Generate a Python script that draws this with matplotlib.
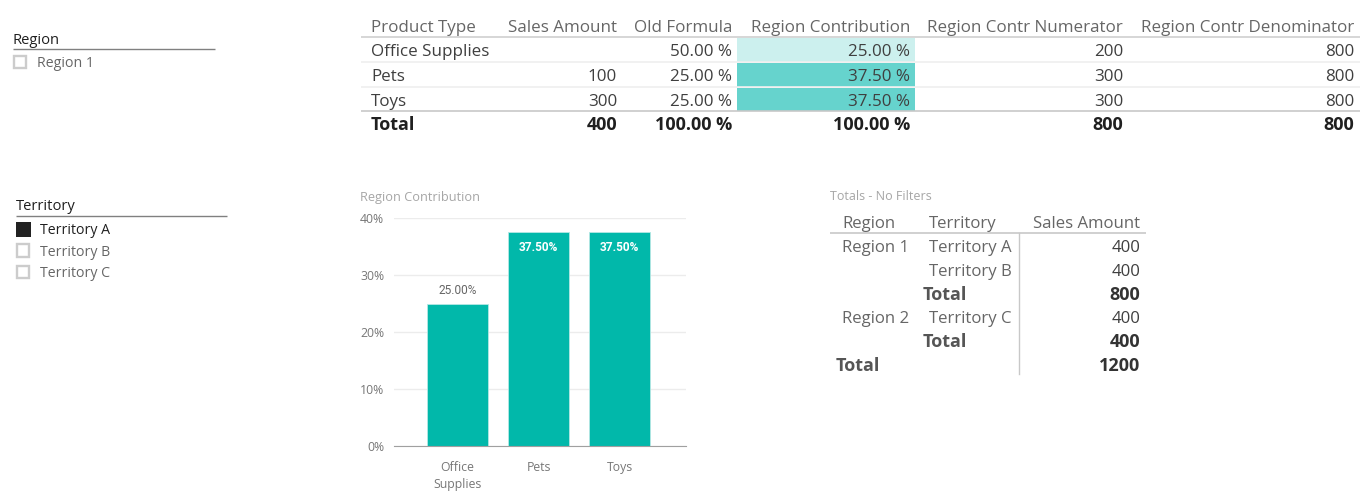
import matplotlib
matplotlib.use("Agg")
import matplotlib.pyplot as plt
from matplotlib.patches import Rectangle

plt.rcParams['font.family'] = ['Open Sans', 'DejaVu Sans']

# ---- data ----
product_header = ["Product Type", "Sales Amount", "Old Formula", "Region Contribution",
                  "Region Contr Numerator", "Region Contr Denominator"]
product_types = ["Office Supplies", "Pets", "Toys"]
sales_amount = ["", "100", "300"]
old_formula = ["50.00 %", "25.00 %", "25.00 %"]
region_contribution_txt = ["25.00 %", "37.50 %", "37.50 %"]
region_numerator = ["200", "300", "300"]
region_denominator = ["800", "800", "800"]
product_total = ["Total", "400", "100.00 %", "100.00 %", "800", "800"]

chart_title = "Region Contribution"
chart_categories = ["Office\nSupplies", "Pets", "Toys"]
chart_values = [25.0, 37.5, 37.5]
chart_labels = ["25.00%", "37.50%", "37.50%"]
chart_ticks = [0, 10, 20, 30, 40]

totals_title = "Totals - No Filters"
totals_header = ["Region", "Territory", "Sales Amount"]
totals_rows = [("Region 1", "Territory A", "400", False),
               ("", "Territory B", "400", False),
               ("", "Total", "800", True),
               ("Region 2", "Territory C", "400", False),
               ("", "Total", "400", True),
               ("Total", "", "1200", True)]

region_slicer_title = "Region"
region_items = ["Region 1"]
territory_slicer_title = "Territory"
territory_items = ["Territory A", "Territory B", "Territory C"]
territory_selected = [True, False, False]

W, H = 1369, 498
fig = plt.figure(figsize=(W / 100, H / 100), dpi=100, facecolor="white")
ov = fig.add_axes([0, 0, 1, 1])
ov.set_xlim(0, W); ov.set_ylim(H, 0); ov.axis("off")

DARK = "#3f3f3f"; MID = "#666666"; BLK = "#1f1f1f"
TF = 12.25
TF2 = 12.05
BF = 13.0

def txt(x, y, s, size=TF, color=DARK, ha="left", weight="normal"):
    ov.text(x, y, s, fontsize=size, color=color, ha=ha, va="center", fontweight=weight)

def hline(x0, x1, y, color, lw=1.0):
    ov.plot([x0, x1], [y, y], color=color, lw=lw, solid_capstyle="butt")

def checkbox(x, y, selected):
    if selected:
        ov.add_patch(Rectangle((x, y), 15, 15, fc="#222222", ec="none"))
    else:
        ov.add_patch(Rectangle((x + 0.8, y + 0.8), 12.5, 12.5, fc="white", ec="#cccccc", lw=1.7))

# ---- slicers ----
txt(13, 40, region_slicer_title, size=10.6, color=BLK)
hline(13, 215, 48.5, "#808080")
for i, it in enumerate(region_items):
    checkbox(13, 55 + i * 21, False)
    txt(37, 63.5 + i * 21, it, size=10.2, color=MID)

txt(16, 206.5, territory_slicer_title, size=10.6, color=BLK)
hline(16, 227, 215.5, "#808080")
for i, (it, sel) in enumerate(zip(territory_items, territory_selected)):
    checkbox(16, 222 + i * 21.5, sel)
    txt(40, 230.5 + i * 21.5, it, size=10.2, color=BLK if sel else MID)

# ---- top table ----
right_edges = [None, 617, 732, 910, 1123, 1354]
row_y = [51.5, 76.5, 101.5]
for y in [62, 87]:
    hline(361, 1360, y, "#efefef", 1.2)
hline(361, 1360, 37, "#d0d0d0", 1.2)
hline(361, 1360, 111, "#c8c8c8", 1.2)
ov.add_patch(Rectangle((737, 38), 178, 23.5, fc="#ccf0ee", ec="none"))
ov.add_patch(Rectangle((737, 63), 178, 23.5, fc="#66d3cd", ec="none"))
ov.add_patch(Rectangle((737, 88), 178, 22.5, fc="#66d3cd", ec="none"))
txt(371, 27.5, product_header[0], color=MID)
for j in range(1, 6):
    txt(right_edges[j], 27.5, product_header[j], color=MID, ha="right")
cols = [sales_amount, old_formula, region_contribution_txt, region_numerator, region_denominator]
for i, y in enumerate(row_y):
    txt(371, y, product_types[i])
    for j, col in enumerate(cols, start=1):
        txt(right_edges[j], y, col[i], ha="right")
txt(371, 124.5, product_total[0], size=BF, color=BLK, weight="bold")
for j in range(1, 6):
    txt(right_edges[j], 124.5, product_total[j], size=BF, color=BLK, ha="right", weight="bold")

# ---- totals table ----
txt(830, 196.5, totals_title, size=9.0, color="#a6a6a6")
txt(842, 223.5, totals_header[0], size=TF2, color=MID)
txt(929, 223.5, totals_header[1], size=TF2, color=MID)
txt(1140, 223.5, totals_header[2], size=TF2, color=MID, ha="right")
hline(830, 1146, 232.5, "#c8c8c8", 1.2)
ov.plot([1018.5, 1018.5], [233, 374], color="#c8c8c8", lw=1.0)
t_y = [247.5, 271.5, 294.5, 318.5, 341.5, 365.5]
for (reg, ter, val, bold), y in zip(totals_rows, t_y):
    w = "bold" if bold else "normal"
    col = "#555555" if bold else MID
    if reg == "Total":
        txt(836, y, reg, size=BF, color=col, weight="bold")
    elif reg:
        txt(842, y, reg, size=TF2, color=MID)
    if ter == "Total":
        txt(923, y, ter, size=BF, color=col, weight="bold")
    elif ter:
        txt(929, y, ter, size=TF2, color=MID)
    txt(1140, y, val, size=BF if bold else TF2, color="#333333" if bold else DARK, ha="right", weight=w)

# ---- bar chart ----
txt(360, 197.5, chart_title, size=9.2, color="#a6a6a6")
ax = fig.add_axes([394 / W, 1 - 446 / H, (686 - 394) / W, (446 - 218) / H])
x = list(range(len(chart_values)))
ax.set_axisbelow(True)
ax.bar(x, chart_values, width=0.753, color="#01b8aa", edgecolor="#b5e8e4", linewidth=0.6)
ax.set_xlim(-0.784, 2.821)
ax.set_ylim(0, 40)
ax.set_yticks(chart_ticks)
ax.set_yticklabels([f"{t}%" for t in chart_ticks], fontsize=8.8, color="#777777")
ax.set_xticks(x)
ax.set_xticklabels(chart_categories, fontsize=8.8, color="#777777", linespacing=1.36)
ax.tick_params(length=0)
ax.tick_params(axis="x", pad=11)
ax.tick_params(axis="y", pad=7)
ax.grid(axis="y", color="#ececec", lw=1)
for s in ["top", "left", "right"]:
    ax.spines[s].set_visible(False)
ax.spines["bottom"].set_color("#a0a0a0")
for xi, v, lab in zip(x, chart_values, chart_labels):
    inside = v > 30
    ax.annotate(lab, (xi, v), xytext=(0, -15 if inside else 13), textcoords="offset pixels",
                ha="center", va="center", fontsize=8.6, family="Roboto",
                fontweight="bold" if inside else "normal",
                color="white" if inside else "#666666")

fig.savefig("out.png", dpi=100, facecolor="white")
